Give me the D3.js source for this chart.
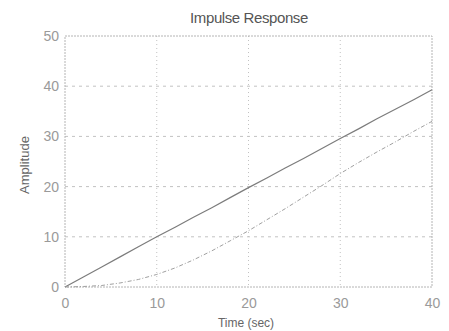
<!DOCTYPE html>
<html>
<head>
<meta charset="utf-8">
<script src="https://cdn.jsdelivr.net/npm/d3@7"></script>
<style>
  html, body { margin: 0; padding: 0; background: #fff; }
  svg { display: block; }
</style>
</head>
<body>
<svg id="chart" width="449" height="331"></svg>
<script>
// Impulse responses of two systems
const time = [0, 2, 4, 6, 8, 10, 12, 14, 16, 18, 20, 22, 24, 26, 28, 30, 32, 34, 36, 38, 40];
const responseA = [0, 2, 4, 6, 8, 10, 11.9, 13.9, 15.8, 17.8, 19.8, 21.7, 23.7, 25.6, 27.6, 29.6, 31.5, 33.5, 35.4, 37.3, 39.3];
const responseB = [0, 0.1, 0.3, 0.8, 1.5, 2.5, 3.8, 5.4, 7.2, 9.2, 11.2, 13.4, 15.6, 17.9, 20.2, 22.6, 24.8, 26.9, 28.9, 31.0, 33.0];
const xTicks = [0, 10, 20, 30, 40];
const yTicks = [0, 10, 20, 30, 40, 50];

const svg = d3.select("#chart");
const m = { left: 65, right: 17, top: 36, bottom: 44 };
const W = 449, H = 331;
const font = "'Liberation Sans', Arial, sans-serif";

const x = d3.scaleLinear().domain([0, 40]).range([m.left, W - m.right]);
const y = d3.scaleLinear().domain([0, 50]).range([H - m.bottom, m.top]);

// dotted grid lines
const grid = svg.append("g").attr("stroke", "#c2c2c2").attr("stroke-width", 1);
grid.selectAll("line.v").data(xTicks.slice(1, -1)).join("line")
  .attr("stroke-dasharray", "1,3")
  .attr("x1", d => x(d)).attr("x2", d => x(d))
  .attr("y1", y(50)).attr("y2", y(0));
grid.selectAll("line.h").data(yTicks.slice(1, -1)).join("line")
  .attr("stroke-dasharray", "3,4")
  .attr("x1", x(0)).attr("x2", x(40))
  .attr("y1", d => y(d)).attr("y2", d => y(d));

// plot frame
svg.append("rect")
  .attr("x", x(0)).attr("y", y(50))
  .attr("width", x(40) - x(0)).attr("height", y(0) - y(50))
  .attr("fill", "none").attr("stroke", "#b4b4b4").attr("stroke-width", 1)
  .attr("stroke-dasharray", "2,1");

const xAxis = d3.axisBottom(x).tickValues(xTicks).tickSize(0).tickPadding(11);
const yAxis = d3.axisLeft(y).tickValues(yTicks).tickSize(0).tickPadding(6);

const gx = svg.append("g").attr("transform", `translate(0,${y(0)})`).call(xAxis);
const gy = svg.append("g").attr("transform", `translate(${x(0)},0)`).call(yAxis);
[gx, gy].forEach(g => {
  g.select(".domain").remove();
  g.selectAll("text").attr("fill", "#9a9a9a")
    .style("font-family", font)
    .style("font-size", "14px");
});

const line = d3.line().x((d, i) => x(time[i])).y(d => y(d));

svg.append("path").datum(responseA)
  .attr("d", line).attr("fill", "none")
  .attr("stroke", "#7c7c7c").attr("stroke-width", 1.2);

svg.append("path").datum(responseB)
  .attr("d", line).attr("fill", "none")
  .attr("stroke", "#a0a0a0").attr("stroke-width", 1)
  .attr("stroke-dasharray", "4,2,1,2");

svg.append("text")
  .attr("x", 249).attr("y", 23)
  .attr("text-anchor", "middle")
  .attr("fill", "#555")
  .style("font-family", font)
  .style("font-size", "15px")
  .style("letter-spacing", "-0.4px")
  .text("Impulse Response");

svg.append("text")
  .attr("transform", `translate(29,165) rotate(-90)`)
  .attr("text-anchor", "middle")
  .attr("fill", "#666")
  .style("font-family", font)
  .style("font-size", "13px")
  .text("Amplitude");

svg.append("text")
  .attr("x", 246).attr("y", 327)
  .attr("text-anchor", "middle")
  .attr("fill", "#666")
  .style("font-family", font)
  .style("font-size", "12px")
  .text("Time (sec)");
</script>
</body>
</html>
